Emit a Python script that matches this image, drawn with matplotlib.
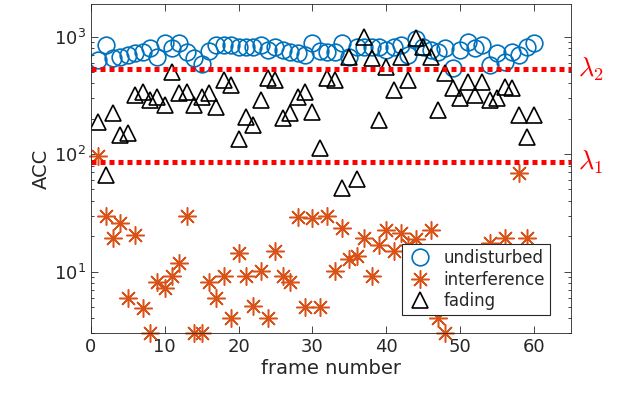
import matplotlib
matplotlib.use("Agg")
import matplotlib.pyplot as plt
import numpy as np

plt.rcParams['font.family'] = ['DejaVu Sans']
plt.rcParams['mathtext.fontset'] = 'cm'

# ACC per frame for the three channel conditions
frames = np.arange(1, 61)

undisturbed = [635, 854, 662, 675, 702, 730, 744, 805, 675, 889,
               805, 889, 744, 662, 590, 760, 854, 854, 854, 822,
               822, 822, 854, 774, 822, 774, 744, 730, 702, 889,
               760, 744, 744, 889, 675, 822, 822, 822, 822, 774,
               822, 854, 702, 950, 822, 774, 744, 805, 544, 774,
               900, 805, 854, 576, 730, 612, 744, 702, 822, 889]

interference = [96, 30, 19.5, 25.8, 6.0, 20.3, 4.9, 3.0, 8.1, 7.2,
                9.2, 11.9, 30, 3.0, 3.0, 8.1, 6.0, 9.2, 4.0, 14.3,
                9.2, 5.1, 10.2, 4.0, 15.1, 9.2, 8.1, 29, 5.0, 28.4,
                5.0, 29.5, 10.2, 23.3, 12.9, 13.7, 19.5, 9.2, 16.7, 22.4,
                15, 21.5, 17, 19.1, 12, 22.4, 4.0, 3.0, 8, 6,
                10, 12, 7, 17.5, 9, 19.5, 11, 69, 19.5, 8]

fading = [188, 66, 224, 145, 151, 319, 338, 289, 307, 263,
          500, 330, 338, 263, 307, 330, 252, 429, 389, 135,
          207, 177, 289, 447, 429, 203, 224, 307, 338, 229,
          113, 447, 429, 51, 675, 62, 1000, 662, 195, 554,
          352, 675, 429, 980, 822, 675, 238, 492, 366, 301,
          412, 319, 412, 289, 301, 374, 366, 215, 140, 215]

lambda1 = 85
lambda2 = 532

blue = '#0072BD'
orange = '#D95319'
grey = '#262626'

fig = plt.figure(figsize=(6.22, 3.95), dpi=100)
ax = fig.add_axes([0.146, 0.157, 0.772, 0.833])

ax.plot(frames, undisturbed, 'o', ms=12, mfc='none', mec=blue, mew=1.2,
        label='undisturbed')
ax.plot(frames, interference, ls='none', marker=(8, 2, 0), ms=13,
        mec=orange, mew=1.1, label='interference', clip_on=False)
ax.plot(frames, fading, '^', ms=11.5, mfc='none', mec='black', mew=1.2,
        label='fading')

for lam in (lambda1, lambda2):
    ax.axhline(lam, color='red', lw=3.6, ls=(0, (1, 0.8)),
               dash_capstyle='butt')

ax.set_yscale('log')
ax.set_xlim(0, 65)
ax.set_ylim(3, 1900)
ax.set_xticks(range(0, 61, 10))

ax.tick_params(which='both', direction='in', top=True, right=True,
               colors=grey, labelsize=13, width=0.6)
ax.tick_params(which='major', length=5)
ax.tick_params(which='minor', length=2.5)
for s in ax.spines.values():
    s.set_color(grey)
    s.set_linewidth(0.6)

ax.set_xlabel('frame number', fontsize=14, color=grey, labelpad=2)
ax.set_ylabel('ACC', fontsize=14, color=grey, labelpad=2)

ax.text(1.015, lambda2, r'$\lambda_2$', transform=ax.get_yaxis_transform(),
        color='red', fontsize=19, va='center', ha='left')
ax.text(1.015, lambda1, r'$\lambda_1$', transform=ax.get_yaxis_transform(),
        color='red', fontsize=19, va='center', ha='left')

leg = ax.legend(loc='lower right', bbox_to_anchor=(0.956, 0.055),
                fontsize=12, frameon=True, fancybox=False, framealpha=1,
                edgecolor=grey, borderpad=0.3, labelspacing=0.2,
                handletextpad=0.6, handlelength=1.6, borderaxespad=0)
leg.get_frame().set_linewidth(0.8)
leg.set_zorder(10)
for t in leg.get_texts():
    t.set_color(grey)

fig.savefig('out.png', dpi=100)
